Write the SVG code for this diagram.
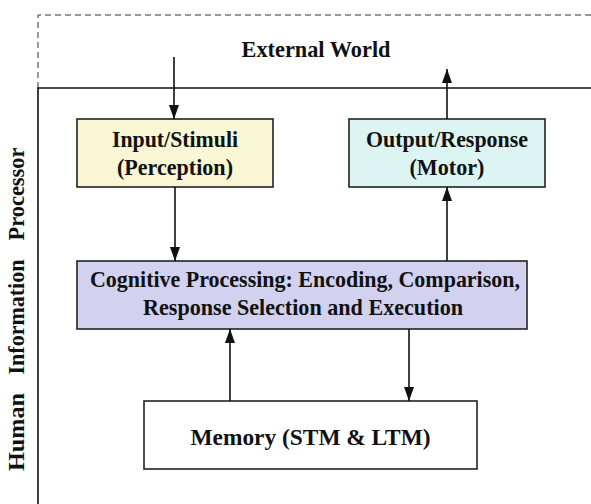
<svg xmlns="http://www.w3.org/2000/svg" width="591" height="504" viewBox="0 0 591 504">
<defs>
<style>
.t{font-family:"Liberation Serif","Times New Roman",serif;font-weight:bold;font-size:23.5px;fill:#111;text-anchor:middle}
.box{stroke:#222;stroke-width:1.6}
.c{stroke:#111;stroke-width:1.6;fill:none}
</style>
<marker id="ah" viewBox="0 0 14 10" refX="14" refY="5" markerWidth="14" markerHeight="10" markerUnits="userSpaceOnUse" orient="auto">
<path d="M0,0 L14,5 L0,10 Z" fill="#111"/>
</marker>
</defs>
<rect width="591" height="504" fill="#fff"/>
<g id="external-world">
<path d="M38,88 V15 H591" fill="none" stroke="#333" stroke-width="1" stroke-dasharray="6,4"/>
<text class="t" x="316" y="57" textLength="149" lengthAdjust="spacingAndGlyphs">External World</text>
</g>
<g id="human-processor">
<path d="M38,504 V88 H591" fill="none" stroke="#111" stroke-width="1.6"/>
<text class="t" transform="translate(24,0) rotate(-90)"><tspan x="-432" y="0" textLength="78" lengthAdjust="spacingAndGlyphs">Human</tspan><tspan x="-317" y="0" textLength="115" lengthAdjust="spacingAndGlyphs">Information</tspan><tspan x="-194" y="0" textLength="93" lengthAdjust="spacingAndGlyphs">Processor</tspan></text>
</g>
<g id="input">
<rect class="box" x="77" y="119" width="196" height="68" fill="#f8f6d4"/>
<text class="t" x="175" y="147" textLength="126" lengthAdjust="spacingAndGlyphs">Input/Stimuli</text>
<text class="t" x="175" y="175" textLength="116" lengthAdjust="spacingAndGlyphs">(Perception)</text>
</g>
<g id="output">
<rect class="box" x="349" y="119" width="196" height="68" fill="#dcf4f2"/>
<text class="t" x="447" y="147" textLength="162" lengthAdjust="spacingAndGlyphs">Output/Response</text>
<text class="t" x="447" y="175" textLength="75" lengthAdjust="spacingAndGlyphs">(Motor)</text>
</g>
<g id="cognitive">
<rect class="box" x="77" y="261" width="450" height="68" fill="#d2d2f0"/>
<text class="t" x="305" y="287" textLength="430" lengthAdjust="spacingAndGlyphs">Cognitive Processing: Encoding, Comparison,</text>
<text class="t" x="303" y="315" textLength="320" lengthAdjust="spacingAndGlyphs">Response Selection and Execution</text>
</g>
<g id="memory">
<rect class="box" x="144" y="401" width="333" height="68" fill="#fff"/>
<text class="t" x="310.5" y="445" textLength="240" lengthAdjust="spacingAndGlyphs">Memory (STM &amp; LTM)</text>
</g>
<g id="connectors">
<line class="c" x1="174" y1="57" x2="174" y2="119" marker-end="url(#ah)"/>
<line class="c" x1="447" y1="119" x2="447" y2="69" marker-end="url(#ah)"/>
<line class="c" x1="175" y1="187" x2="175" y2="261" marker-end="url(#ah)"/>
<line class="c" x1="447" y1="261" x2="447" y2="187" marker-end="url(#ah)"/>
<line class="c" x1="230" y1="401" x2="230" y2="329" marker-end="url(#ah)"/>
<line class="c" x1="409" y1="329" x2="409" y2="401" marker-end="url(#ah)"/>
</g>
</svg>
